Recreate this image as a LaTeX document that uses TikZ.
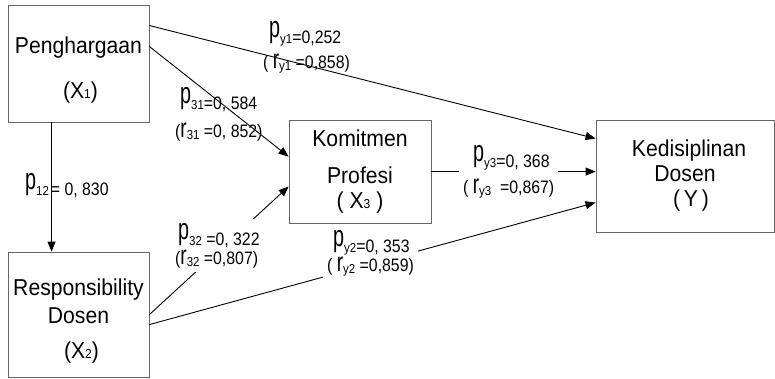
\documentclass[tikz,border=0pt]{standalone}
\usepackage{graphicx}
\usepackage{fontspec}
\setmainfont{Liberation Sans}
\newfontfamily\boxfont[FakeStretch=0.92]{Liberation Sans}
\newfontfamily\labfont[FakeStretch=0.88]{Liberation Sans}
\usetikzlibrary{arrows.meta,calc}
\newcommand\BL[1]{{\fontsize{30}{30}\selectfont\scalebox{0.75}[1]{#1}}}
\newcommand\BR[1]{{\fontsize{27}{27}\selectfont\scalebox{0.8}[1]{#1}}}
\newcommand\pp[2]{\raisebox{6pt}{\BL{p}}{\fontsize{13}{13}\selectfont #1}#2}
\newcommand\rr[2]{\BR{r}{\fontsize{13}{13}\selectfont\raisebox{-2pt}{#1}}#2}
\newcommand\sbx[1]{{\fontsize{13}{13}\selectfont #1}}
\newcommand\twol[3]{\vbox{\baselineskip=#1pt\lineskiplimit=-50pt\lineskip=0pt\hbox{#2}\hbox{#3}}}
\tikzset{
  box/.style={draw=black!60, line width=0.9pt, rectangle, align=center,
    font=\boxfont\fontsize{23}{25}\selectfont, inner sep=0pt},
  arr/.style={-{Triangle[length=10pt,width=8pt]}, line width=0.9pt, draw=black},
  lab/.style={font=\labfont\fontsize{18}{18}\selectfont, anchor=north west, inner sep=1pt},
  labw/.style={lab, fill=white, inner sep=4pt}
}
\begin{document}
\begin{tikzpicture}[x=1pt,y=-1pt]
\useasboundingbox (0,0) rectangle (775,379);
\node[box, minimum width=141pt, minimum height=117pt] (P) at (78.5,63.5)
  {\raisebox{-14pt}[0pt][0pt]{\begin{tabular}{@{}c@{}}Penghargaan\\[20pt]\hspace*{4pt}(X\sbx{1})\end{tabular}}};
\node[box, minimum width=142pt, minimum height=103pt] (K) at (360,171.5)
  {Komitmen\\[12pt]Profesi\\[0pt]( X\sbx{3} )};
\node[box, minimum width=178pt, minimum height=112pt] (Y) at (685,176)
  {\hspace*{8pt}Kedisiplinan\\Dosen\\\hspace*{12pt}(\,Y\,)};
\node[box, minimum width=141pt, minimum height=125pt] (R) at (78.5,314.5)
  {\raisebox{-14pt}[0pt][0pt]{\begin{tabular}{@{}c@{}}Responsibility\\[3pt]Dosen\\[10pt]\hspace*{6pt}(X\sbx{2})\end{tabular}}};

\draw[arr] ([yshift=-21pt]P.north east) -- ([yshift=-19pt]Y.north west);
\draw[arr] ([yshift=-42pt]P.north east) -- ([yshift=-37pt]K.north west);
\draw[arr] ([xshift=44pt]P.south west) -- ([xshift=44pt]R.north west);
\draw[arr] ([yshift=-63pt]R.north east) -- ([yshift=-67pt]K.north west);
\draw[arr] ([yshift=-73pt]R.north east) -- ([yshift=-83pt]Y.north west);
\draw[arr] ([yshift=-52pt]K.north east) -- ([yshift=-52pt]Y.north west);

\node[lab] (ly1) at (262,20) {\twol{25}{\hspace*{6pt}\pp{y1}{=0,252}}{( \rr{y1}{ =0,858)}}};
\node[lab] (l31) at (174,86) {\twol{28}{\hspace*{5pt}\pp{31}{=0, 584}}{(\rr{31}{ =0, 852)}}};
\node[lab] (l12) at (24,172) {\pp{12}{\hspace{2pt}= 0, 830}};
\node[labw] (l32) at (171,219) {\twol{19}{\hspace*{3pt}\pp{32}{ =0, 322}}{(\rr{32}{ =0,807)}}};
\node[labw] (ly2) at (323,226) {\twol{19}{\hspace*{6pt}\pp{y2}{=0, 353}}{( \rr{y2}{ =0,859)}}};
\node[labw] (ly3) at (459,141) {\twol{26}{\hspace*{10pt}\pp{y3}{=0, 368}}{( \rr{y3}{\ \ =0,867)}}};
\end{tikzpicture}
\end{document}
